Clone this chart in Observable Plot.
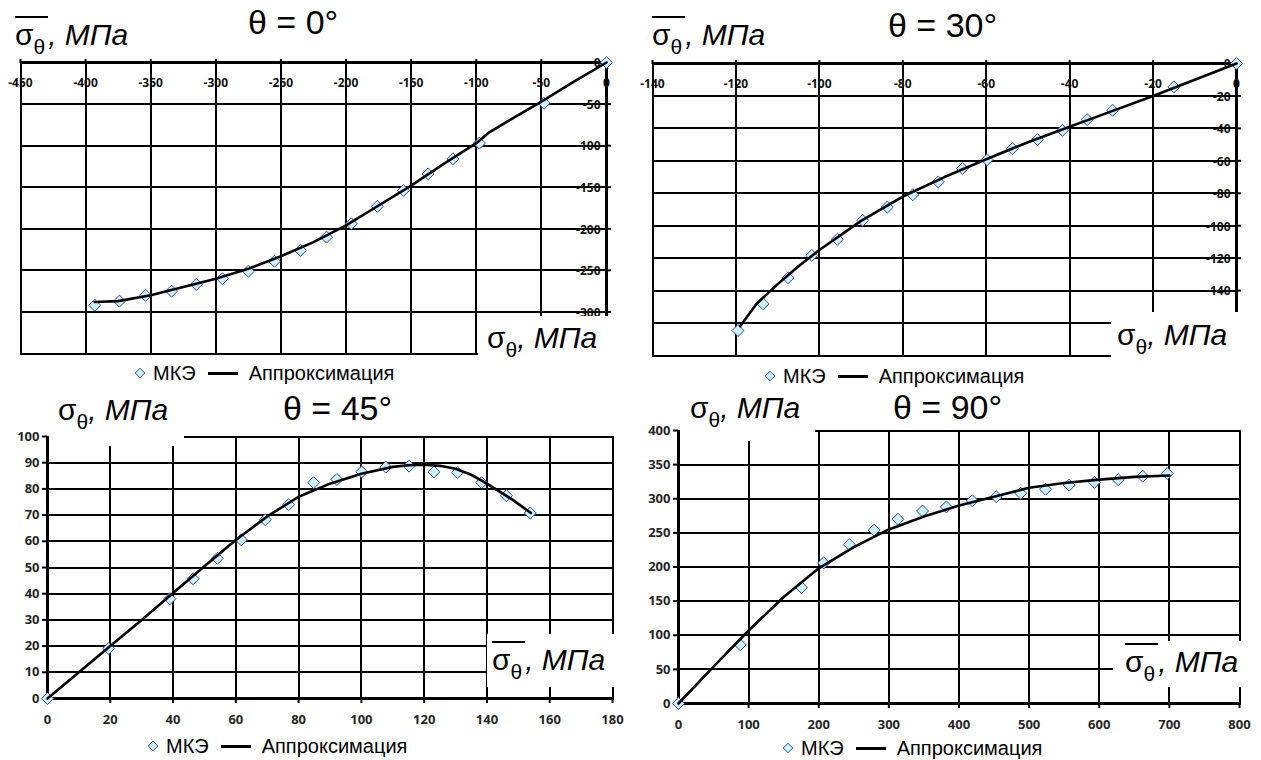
<!DOCTYPE html>
<html><head><meta charset="utf-8">
<script src="https://cdn.jsdelivr.net/npm/d3@7"></script>
<script src="https://cdn.jsdelivr.net/npm/@observablehq/plot@0.6"></script>
<style>
body{margin:0;background:#fff;}
#root{position:relative;width:1261px;height:760px;overflow:hidden;font-family:Arial,"Liberation Sans",sans-serif;color:#000;}
.panel{position:absolute;}
.cover{position:absolute;background:#fff;}
.lbl{position:absolute;font-size:30px;line-height:1;white-space:nowrap;}
.lbl i{font-style:italic;}
.sub{font-size:21px;position:relative;top:9px;}
.ov{border-top:2px solid #000;padding-right:3px;}
.title{position:absolute;font-size:34px;line-height:1;white-space:nowrap;}
.legend{position:absolute;font-size:20px;line-height:22px;height:22px;display:flex;align-items:center;white-space:nowrap;}
.legend .ln{display:inline-block;width:30px;height:3px;background:#000;margin:0 11px 0 12px;}
.legend svg{margin-right:7px;}
</style>
</head><body>
<div id="root"></div>
<script>
// ---------- data ----------
// θ = 0°
const fem0X = [0, -48, -97.6, -118, -137, -156, -176, -196, -215, -235, -255, -275, -295, -315, -334, -354, -374, -393];
const fem0Y = [0, -49, -97, -116, -134, -154, -173, -194, -210, -226, -239, -251, -260, -267, -275, -280, -287, -292];
const fit0X = [0, -25, -50, -75, -90, -100, -125, -150, -175, -200, -225, -250, -275, -300, -325, -350, -375, -393];
const fit0Y = [0, -23, -47, -70, -84, -97, -122, -148, -172, -196, -216, -233, -248, -260, -270, -280, -287, -288];
const xGrid0 = [-450, -400, -350, -300, -250, -200, -150, -100, -50, 0];
const yGrid0 = [0, -50, -100, -150, -200, -250, -300, -350];
const xLab0 = [-450, -400, -350, -300, -250, -200, -150, -100, -50, 0];
const yLab0 = [0, -50, -100, -150, -200, -250, -300];

// θ = 30°
const fem30X = [0, -15, -29.7, -35.8, -41.7, -47.7, -53.7, -59.8, -65.7, -71.5, -77.6, -83.7, -89.6, -95.7, -101.8, -107.5, -113.5, -119.5];
const fem30Y = [0, -14.4, -28.8, -34.6, -41.2, -46.9, -52.5, -59.3, -64.8, -73, -80.9, -88.5, -96.7, -108.4, -118.3, -132.1, -148.1, -164.6];
const fit30X = [0, -10, -20, -30, -40, -50, -60, -70, -80, -90, -100, -105, -110, -115, -119];
const fit30Y = [0, -10, -20, -29.5, -39, -48.5, -59, -70, -82, -97, -115, -125, -136, -148, -162];
const xGrid30 = [-140, -120, -100, -80, -60, -40, -20, 0];
const yGrid30 = [0, -20, -40, -60, -80, -100, -120, -140, -160, -180];
const xLab30 = [-140, -120, -100, -80, -60, -40, -20, 0];
const yLab30 = [0, -20, -40, -60, -80, -100, -120, -140];

// θ = 45°
const fem45X = [0, 19.5, 39, 46.4, 54.1, 61.7, 69.4, 76.8, 84.8, 92.2, 100.1, 107.8, 115.2, 123.1, 130.6, 138.3, 146.2, 153.8];
const fem45Y = [0, 19.1, 38.1, 45.7, 53.5, 60.6, 68.2, 74, 82.4, 83.6, 86.5, 88.3, 88.7, 86.5, 86.2, 82.4, 77.4, 70.8];
const fit45X = [0, 10, 20, 30, 40, 50, 60, 70, 80, 90, 100, 110, 115, 120, 125, 130, 135, 140, 148, 154];
const fit45Y = [0, 10, 20, 30, 40.3, 50.5, 60.5, 69.5, 77, 82, 85.8, 88.4, 89, 89.2, 88.8, 87.7, 85.4, 82, 76, 70.8];
const xGrid45 = [0, 20, 40, 60, 80, 100, 120, 140, 160, 180];
const yGrid45 = [0, 10, 20, 30, 40, 50, 60, 70, 80, 90, 100];

// θ = 90°
const fem90X = [0, 88, 175.5, 207, 243.5, 279, 313, 348, 382, 419, 453, 488, 523.5, 557, 593, 627, 662, 697];
const fem90Y = [0, 86, 170, 206, 233, 254, 270, 282, 288, 297, 303, 308, 314, 320, 324, 328, 333, 337];
const fit90X = [0, 50, 100, 150, 200, 250, 300, 350, 400, 450, 500, 550, 600, 650, 700];
const fit90Y = [0, 54, 107, 156, 198, 229, 255, 274, 290, 303, 316, 323, 328, 332, 334];
const xGrid90 = [0, 100, 200, 300, 400, 500, 600, 700, 800];
const yGrid90 = [0, 50, 100, 150, 200, 250, 300, 350, 400];

const legendNames = ["МКЭ", "Аппроксимация"];
const titles = ["θ = 0°", "θ = 30°", "θ = 45°", "θ = 90°"];

// ---------- helpers ----------
const pts = (xs, ys) => xs.map((x, i) => ({x, y: ys[i]}));
const FEM_FILL = "#c8f3ff", FEM_STROKE = "#3b3fa6";
const GRID = {stroke: "#000", strokeWidth: 2, shapeRendering: "crispEdges"};

function panel(o) {
  const marks = [
    Plot.ruleX(o.xGrid, {x: d => d, ...GRID}),
    Plot.ruleY(o.yGrid, {y: d => d, ...GRID}),
    Plot.frame({...GRID}),
    Plot.ruleX([0], {x: d => d, stroke: "#000", strokeWidth: 3, shapeRendering: "crispEdges"}),
    Plot.ruleY([0], {y: d => d, stroke: "#000", strokeWidth: 3, shapeRendering: "crispEdges"})
  ];
  if (o.top) {
    marks.push(
      Plot.axisX({anchor: "top", ticks: o.xGrid, tickSize: 4, tickFormat: () => "", label: null, strokeWidth: 2}),
      Plot.axisY({anchor: "right", ticks: o.yGrid, tickSize: 4, tickFormat: () => "", label: null, strokeWidth: 2}),
      Plot.text(o.xLab, {x: d => d, y: () => 0, dy: 21, text: d => String(d), fontSize: 12, fontWeight: "bold", fill: "#111", letterSpacing: "-0.9px"}),
      Plot.text(o.yLab, {x: () => 0, y: d => d, dx: -6, dy: 1, textAnchor: "end", text: d => String(d), fontSize: 12, fontWeight: "bold", fill: "#111", letterSpacing: "-0.9px"})
    );
  } else {
    marks.push(
      Plot.axisX({anchor: "bottom", ticks: o.xGrid, tickSize: 5, tickFormat: () => "", label: null, strokeWidth: 2}),
      Plot.axisY({anchor: "left", ticks: o.yGrid, tickSize: 5, tickFormat: () => "", label: null, strokeWidth: 2}),
      Plot.text(o.xGrid, {x: d => d, y: () => 0, dy: 21, text: d => String(d), fontSize: 13, fontWeight: "bold", fill: "#262626"}),
      Plot.text(o.yGrid, {x: () => 0, y: d => d, dx: -8, textAnchor: "end", text: d => String(d), fontSize: 13, fontWeight: "bold", fill: "#262626"})
    );
  }
  marks.push(
    Plot.dot(o.fem, {x: "x", y: "y", symbol: "diamond2", r: 5.4, fill: FEM_FILL, stroke: FEM_STROKE, strokeWidth: 1}),
    Plot.line(o.fit, {x: "x", y: "y", stroke: "#000", strokeWidth: 2.6, curve: "linear", strokeLinejoin: "round"})
  );
  return Plot.plot({
    width: o.width, height: o.height,
    marginLeft: o.ml, marginRight: o.mr, marginTop: o.mt, marginBottom: o.mb,
    x: {domain: o.xDom, label: null}, y: {domain: o.yDom, label: null},
    style: {background: "transparent", overflow: "visible"},
    marks
  });
}

const root = document.getElementById("root");
function place(el, left, top) {
  el.classList.add("panel");
  el.style.left = left + "px"; el.style.top = top + "px";
  root.appendChild(el);
}

place(panel({width: 630, height: 320, ml: 20, mr: 24, mt: 12, mb: 17, xDom: [-450, 0], yDom: [-350, 0],
  xGrid: xGrid0, yGrid: yGrid0, xLab: xLab0, yLab: yLab0, fem: pts(fem0X, fem0Y), fit: pts(fit0X, fit0Y), top: true}), 0, 50);
place(panel({width: 631, height: 320, ml: 22, mr: 25, mt: 13, mb: 15, xDom: [-140, 0], yDom: [-180, 0],
  xGrid: xGrid30, yGrid: yGrid30, xLab: xLab30, yLab: yLab30, fem: pts(fem30X, fem30Y), fit: pts(fit30X, fit30Y), top: true}), 630, 50);
place(panel({width: 630, height: 360, ml: 47, mr: 18, mt: 36, mb: 62, xDom: [0, 180], yDom: [0, 100],
  xGrid: xGrid45, yGrid: yGrid45, fem: pts(fem45X, fem45Y), fit: pts(fit45X, fit45Y), top: false}), 0, 400);
place(panel({width: 631, height: 360, ml: 48, mr: 22, mt: 30, mb: 57, xDom: [0, 800], yDom: [0, 400],
  xGrid: xGrid90, yGrid: yGrid90, fem: pts(fem90X, fem90Y), fit: pts(fit90X, fit90Y), top: false}), 630, 400);

// ---------- white label boxes (Excel text boxes) ----------
function cover(l, t, w, h) {
  const d = document.createElement("div"); d.className = "cover";
  Object.assign(d.style, {left: l + "px", top: t + "px", width: w + "px", height: h + "px"});
  root.appendChild(d);
}
cover(478, 316, 140, 44);
cover(1111, 312, 140, 46);
cover(49, 392, 135, 54);
cover(487, 634, 135, 53);
cover(680, 392, 135, 49);
cover(1113, 641, 140, 46);

// ---------- texts ----------
function html(cls, l, t, inner) {
  const d = document.createElement("div"); d.className = cls;
  d.style.left = l + "px"; d.style.top = t + "px"; d.innerHTML = inner;
  root.appendChild(d);
  return d;
}
const sig = '<span>σ<span class="sub">θ</span></span><i>, МПа</i>';
const sigBar = '<span class="ov">σ<span class="sub">θ</span></span><i>, МПа</i>';

html("title", 248, 5, titles[0]);
html("title", 888, 8, titles[1]);
html("title", 283, 391, titles[2]);
html("title", 893, 390, titles[3]);

html("lbl", 15, 20, sigBar);
html("lbl", 652, 20, sigBar);
html("lbl", 58, 395, sig);
html("lbl", 690, 393, sig);
html("lbl", 487, 323, sig);
html("lbl", 1117, 320, sig);
html("lbl", 492, 645, sigBar);
html("lbl", 1125, 647, sigBar);

function legend(l, t) {
  const diamond = `<svg width="12" height="12" viewBox="-6 -6 12 12"><path d="M0,-4.8L4.8,0L0,4.8L-4.8,0Z" fill="${FEM_FILL}" stroke="${FEM_STROKE}" stroke-width="1"/></svg>`;
  html("legend", l, t, `${diamond}<span>${legendNames[0]}</span><span class="ln"></span><span>${legendNames[1]}</span>`);
}
legend(134, 362);
legend(764, 365);
legend(147, 735);
legend(782, 737);
</script>
</body></html>
